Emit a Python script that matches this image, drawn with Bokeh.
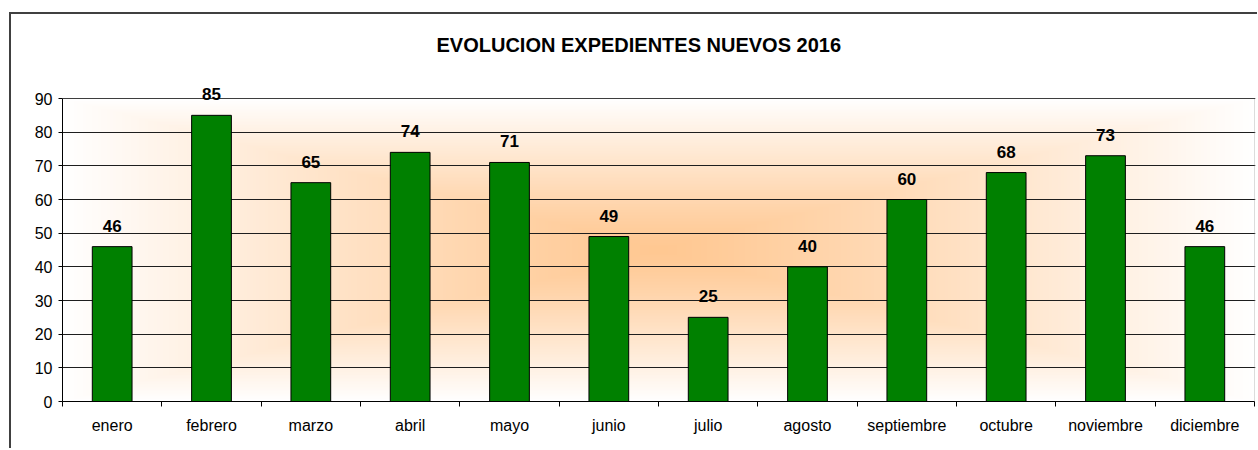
import numpy as np
from bokeh.plotting import figure
from bokeh.models import (Range1d, FixedTicker, SingleIntervalTicker,
                          ColumnDataSource, CustomJSTickFormatter, Label,
                          BoxAnnotation)
from bokeh.embed import file_html
from bokeh.resources import INLINE

# ---- data ----
months = ["enero", "febrero", "marzo", "abril", "mayo", "junio", "julio",
          "agosto", "septiembre", "octubre", "noviembre", "diciembre"]
expedientes = [46, 85, 65, 74, 71, 49, 25, 40, 60, 68, 73, 46]
y_max = 90
y_interval = 10
title_text = "EVOLUCION EXPEDIENTES NUEVOS 2016"

FONT = "Liberation Sans"

n = len(months)
centers = [i + 0.5 for i in range(n)]
bounds = list(range(n + 1))

src = ColumnDataSource(dict(x=centers, month=months, value=expedientes,
                            label=[str(v) for v in expedientes]))

# plot area 0..90 is 303 px tall; frame extended above it (for labels)
# and 1 px to the right (so the area border is visible)
PLOT_H, EXTRA_TOP = 303, 23
PLOT_W, EXTRA_RIGHT = 1192, 1

p = figure(x_range=Range1d(0, n * (PLOT_W + EXTRA_RIGHT) / PLOT_W),
           y_range=Range1d(0, y_max * (PLOT_H + EXTRA_TOP) / PLOT_H),
           frame_width=PLOT_W + EXTRA_RIGHT, frame_height=PLOT_H + EXTRA_TOP,
           min_border_left=51, min_border_right=2,
           min_border_top=84 - EXTRA_TOP, min_border_bottom=47,
           output_backend="svg", toolbar_location=None,
           background_fill_color="white", border_fill_color="white",
           outline_line_color=None)

p.styles = {"border-top": "2px solid #404040", "border-left": "2px solid #404040"}
p.margin = (12, 0, 0, 9)

# title
p.title.text = title_text
p.title.align = "left"
p.title.offset = 374
p.title.vertical_align = "top"
p.title.text_font = FONT
p.title.text_font_size = "20px"
p.title.text_font_style = "bold"
p.title.text_color = "black"
p.title.standoff = 35

# gradient background (rectangular, from centre)
nx, ny = 400, 200
u = np.linspace(-1, 1, nx)
v = np.linspace(-1, 1, ny)
U, V = np.meshgrid(u, v)
f = np.clip(np.maximum(np.abs(U), np.abs(V)), 0, 1) ** 1.15
c0 = np.array([255, 200, 146])
c1 = np.array([255, 255, 255])
img = np.empty((ny, nx), dtype=np.uint32)
view = img.view(dtype=np.uint8).reshape((ny, nx, 4))
for k in range(3):
    view[:, :, k] = (c0[k] + (c1[k] - c0[k]) * f).astype(np.uint8)
view[:, :, 3] = 255
p.image_rgba(image=[img], x=0, y=0, dw=n, dh=y_max, level="image")

# plot-area border
p.add_layout(BoxAnnotation(left=0, right=n, bottom=0, top=y_max,
                           fill_alpha=0, line_color="#8c8c8c", line_width=1,
                           level="underlay"))

# grid
yt = SingleIntervalTicker(interval=y_interval, num_minor_ticks=0)
p.yaxis.ticker = yt
p.ygrid.ticker = yt
p.ygrid.grid_line_color = "#1e1e1e"
p.ygrid.grid_line_width = 1
p.xgrid.visible = False

# y axis
p.yaxis.bounds = (0, y_max)
p.yaxis.axis_line_color = "black"
p.yaxis.major_tick_out = 4
p.yaxis.major_tick_in = 0
p.yaxis.minor_tick_line_color = None
p.yaxis.major_label_standoff = 6
p.yaxis.major_label_text_font = FONT
p.yaxis.major_label_text_font_size = "16px"
p.yaxis.major_label_text_color = "black"

# x axis: labels at centres, ticks at category boundaries
p.xaxis.bounds = (0, n)
p.xaxis.ticker = FixedTicker(ticks=centers, minor_ticks=bounds)
p.xaxis.formatter = CustomJSTickFormatter(args=dict(months=months),
                                          code="return months[Math.floor(tick)] || '';")
p.xaxis.axis_line_color = "black"
p.xaxis.major_tick_line_color = None
p.xaxis.major_tick_out = 5
p.xaxis.major_tick_in = 0
p.xaxis.minor_tick_line_color = "black"
p.xaxis.minor_tick_out = 5
p.xaxis.minor_tick_in = 0
p.xaxis.major_label_standoff = 10
p.xaxis.major_label_text_font = FONT
p.xaxis.major_label_text_font_size = "16px"
p.xaxis.major_label_text_color = "black"

# bars
p.vbar(x="x", top="value", width=0.4, source=src,
       fill_color="#008000", line_color="black", line_width=1)

# value labels
for xc, val, txt in zip(src.data["x"], src.data["value"], src.data["label"]):
    p.add_layout(Label(x=xc, y=val, text=txt, text_align="center",
                       text_baseline="alphabetic", y_offset=21,
                       text_font=FONT, text_font_style="bold",
                       text_font_size="17px", text_color="black"))

open("out.html", "w").write(file_html(p, INLINE))
